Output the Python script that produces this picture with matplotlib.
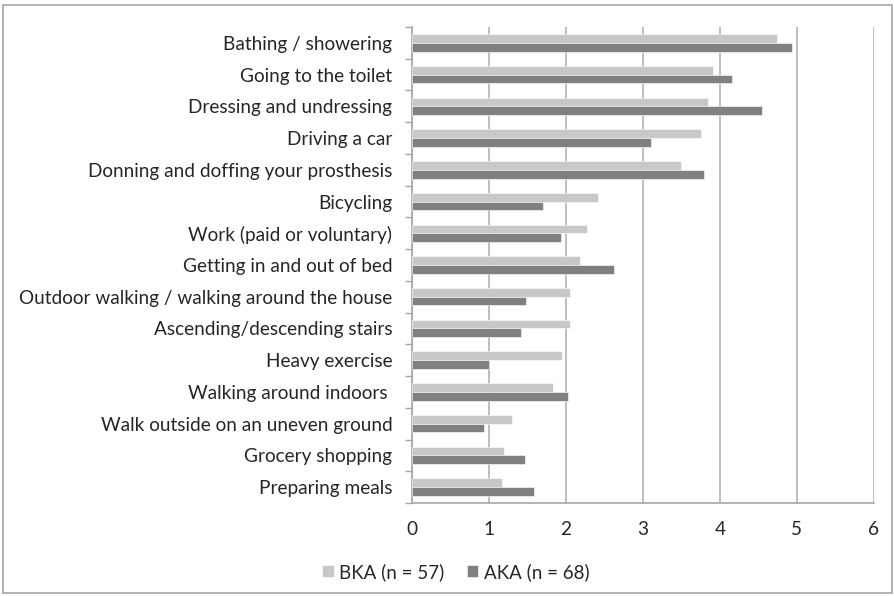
import matplotlib.pyplot as plt
import numpy as np
from matplotlib.patches import Rectangle

categories = [
    "Bathing / showering",
    "Going to the toilet",
    "Dressing and undressing",
    "Driving a car",
    "Donning and doffing your prosthesis",
    "Bicycling",
    "Work (paid or voluntary)",
    "Getting in and out of bed",
    "Outdoor walking / walking around the house",
    "Ascending/descending stairs",
    "Heavy exercise",
    "Walking around indoors ",
    "Walk outside on an uneven ground",
    "Grocery shopping",
    "Preparing meals",
]
bka = [4.74, 3.91, 3.84, 3.75, 3.49, 2.42, 2.27, 2.19, 2.06, 2.05, 1.95, 1.83, 1.30, 1.20, 1.17]
aka = [4.94, 4.16, 4.55, 3.10, 3.79, 1.70, 1.94, 2.63, 1.48, 1.42, 1.00, 2.03, 0.94, 1.47, 1.59]
series_labels = ["BKA (n = 57)", "AKA (n = 68)"]
xticks = [0, 1, 2, 3, 4, 5, 6]

plt.rcParams['font.family'] = ['Lato', 'DejaVu Sans']
FS = 13.7
TXT = "#262626"

W, H = 895, 596
fig = plt.figure(figsize=(W / 100, H / 100), dpi=100)
ax = fig.add_axes([411.7 / W, 1 - 503 / H, (874 - 411.7) / W, (503 - 27) / H])

n = len(categories)
y = np.arange(n)
bh = 0.275
light, dark = "#c8c8c8", "#808080"
ax.barh(y - bh / 2, bka, height=bh, color=light, edgecolor="white", linewidth=0.4,
        label=series_labels[0], zorder=3)
ax.barh(y + bh / 2, aka, height=bh, color=dark, edgecolor="white", linewidth=0.4,
        label=series_labels[1], zorder=3)

ax.set_ylim(n - 0.5, -0.5)
ax.set_xlim(0, 6)
ax.set_yticks(y)
ax.set_yticklabels(categories, fontsize=FS, color=TXT)
ax.set_yticks(np.arange(n + 1) - 0.5, minor=True)
ax.tick_params(axis="y", which="major", length=0, pad=14)
ax.tick_params(axis="y", which="minor", length=5, color="#a6a6a6", width=1)
ax.set_xticks(xticks)
ax.set_xticklabels([str(t) for t in xticks], fontsize=FS, color=TXT)
ax.tick_params(axis="x", length=0, pad=13)

ax.grid(axis="x", color="#b3b3b3", linewidth=1.2, zorder=0)
for s in ["top", "right"]:
    ax.spines[s].set_visible(False)
for s in ["left", "bottom"]:
    ax.spines[s].set_color("#a6a6a6")
    ax.spines[s].set_linewidth(1.2)

leg = fig.legend(loc="center", bbox_to_anchor=(456 / W, 1 - 572 / H), ncol=2,
                 frameon=False, fontsize=13.5, handlelength=0.6, handleheight=0.6,
                 handletextpad=0.3, columnspacing=1.2)
for t in leg.get_texts():
    t.set_color(TXT)

fig.patches.append(Rectangle((3 / W, 3 / H), (W - 6) / W, (H - 8) / H,
                             transform=fig.transFigure, fill=False,
                             edgecolor="#a6a6a6", linewidth=1.2))

fig.savefig("out.png", dpi=100)
